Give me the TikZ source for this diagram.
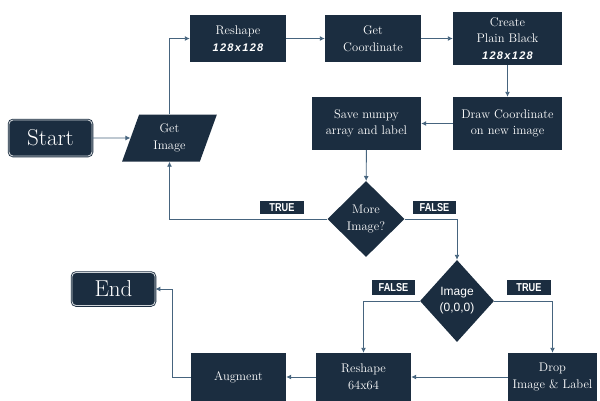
\documentclass[tikz,border=0pt]{standalone}
\usepackage{fontspec}
\usepackage{graphicx}
\newfontfamily\arialf{Liberation Sans}
\newfontfamily\arialsp[LetterSpace=12]{Liberation Sans}
\newcommand\dimtxt[1]{{\arialsp\bfseries\itshape\fontsize{11}{13}\selectfont #1}}
\newcommand\tagtxt[1]{\scalebox{0.8}[1]{#1}}
\usetikzlibrary{shapes.geometric,arrows.meta}
\definecolor{dk}{RGB}{27,45,64}
\definecolor{ln}{RGB}{70,100,126}
\definecolor{ring}{RGB}{205,210,215}
\begin{document}
\begin{tikzpicture}[x=1pt,y=-1pt,
  box/.style={fill=dk, text=white, inner sep=0pt, align=center, font=\fontsize{12.5}{16.5}\selectfont},
  term/.style={box, rounded corners=4pt, draw=dk, double=ring, double distance=0.9pt, line width=0.8pt, font=\fontsize{23}{24}\selectfont},
  dia/.style={fill=dk, diamond, inner sep=0pt},
  tag/.style={fill=dk, text=white, font=\arialf\bfseries\fontsize{11.5}{12}\selectfont, inner sep=0pt, minimum width=44pt},
  arr/.style={draw=ln, line width=0.9pt, -{Latex[length=5pt,width=5pt]}}
]
\useasboundingbox (0,0) rectangle (600,400);

\node[term, minimum width=83pt, minimum height=36pt] (start) at (50.5,138) {Start};
\node[term, minimum width=83pt, minimum height=33pt] (endn) at (113.5,289) {End};

\node[box, trapezium, trapezium left angle=72, trapezium right angle=108, trapezium stretches=true, minimum width=95pt, minimum height=47pt] (getimg) at (169.5,138) {Get\\Image};

\node[box, minimum width=96pt, minimum height=47pt] (resh) at (238,38.5) {Reshape\\\dimtxt{128x128}};
\node[box, minimum width=96pt, minimum height=47pt] (getc) at (373,38.5) {Get\\Coordinate};
\node[box, minimum width=109pt, minimum height=53pt] (create) at (507.5,38.5) {Create\\Plain Black\\\dimtxt{128x128}};
\node[box, minimum width=109pt, minimum height=53pt] (drawc) at (507.5,123.5) {Draw Coordinate\\on new image};
\node[box, minimum width=109pt, minimum height=53pt] (save) at (366.5,123.5) {Save numpy\\array and label};

\node[dia, minimum width=77pt, minimum height=76pt, label={[text=white, align=center, font=\fontsize{12.5}{16.5}\selectfont]center:More\\Image?}] (more) at (366,219) {};
\node[dia, minimum width=74pt, minimum height=82pt, label={[text=white, align=center, font=\arialf\fontsize{12}{16}\selectfont]center:Image\\(0,0,0)}] (img) at (457,301) {};

\node[box, minimum width=95pt, minimum height=48pt] (aug) at (238.5,377) {Augment};
\node[box, minimum width=95pt, minimum height=48pt] (resh64) at (363.5,377) {Reshape\\64x64};
\node[box, minimum width=89pt, minimum height=48pt] (drop) at (552.5,377) {Drop\\Image \& Label};

\node[tag, minimum height=13pt] (t1) at (282,207.5) {\tagtxt{TRUE}};
\node[tag, minimum height=13pt, minimum width=43pt] (f1) at (434.5,207.5) {\tagtxt{FALSE}};
\node[tag, minimum height=15pt, minimum width=43pt] (f2) at (393.5,287.5) {\tagtxt{FALSE}};
\node[tag, minimum height=15pt] (t2) at (529,287.5) {\tagtxt{TRUE}};

\coordinate (bend) at (172,377);

\draw[arr] (start.east) -- (getimg.west);
\draw[arr] (getimg.north) |- (resh.west);
\draw[arr] (resh) -- (getc);
\draw[arr] (getc) -- (create);
\draw[arr] (create) -- (drawc);
\draw[arr] (drawc) -- (save);
\draw[arr] (save) -- (more);
\draw[arr] (more.west) -| (getimg.south);
\draw[arr] (more.east) -| (img.north);
\draw[arr] (img.west) -| (resh64.north);
\draw[arr] (img.east) -| (drop.north);
\draw[arr] (drop) -- (resh64);
\draw[arr] (resh64) -- (aug);
\draw[arr] (aug.west) -- (bend) |- (endn.east);
\end{tikzpicture}
\end{document}
